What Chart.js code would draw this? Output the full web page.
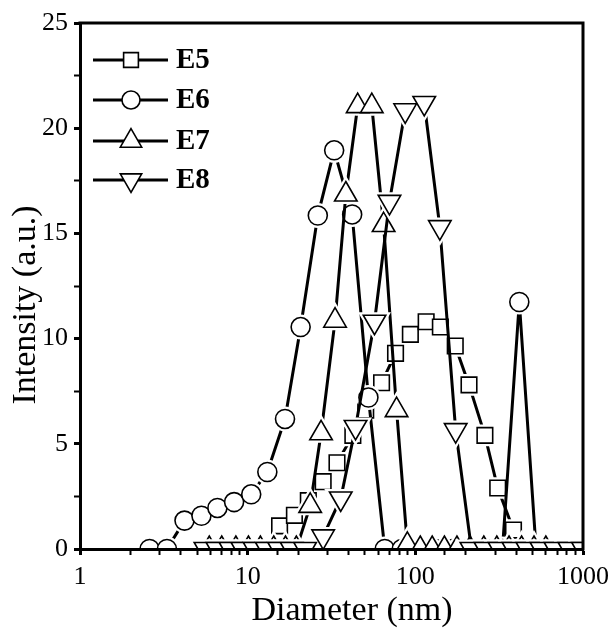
<!DOCTYPE html>
<html><head><meta charset="utf-8">
<script src="https://cdn.jsdelivr.net/npm/chart.js@4/dist/chart.umd.min.js"></script>
<style>html,body{margin:0;padding:0;background:#fff}canvas{display:block}</style>
</head><body>
<canvas id="c" width="616" height="632"></canvas>
<script>
const seriesNames = ['E5', 'E6', 'E7', 'E8'];
const e5Diameter = [15.5, 19.0, 23.0, 28.2, 34.1, 42.4, 50.6, 62.9, 76.2, 93.4, 116, 141, 173, 209, 260, 310, 385, 466, 570];
const e5Intensity = [1.1, 1.6, 2.3, 3.2, 4.1, 5.4, 6.6, 7.9, 9.3, 10.2, 10.8, 10.55, 9.65, 7.8, 5.4, 2.9, 0.9, 0, 0];
const e6Diameter = [2.6, 3.3, 4.2, 5.3, 6.6, 8.3, 10.5, 13.1, 16.7, 20.7, 26.2, 32.8, 42, 52.5, 65.7, 83, 105, 132, 166, 209, 263, 331, 417, 525];
const e6Intensity = [0, 0, 1.35, 1.58, 1.95, 2.23, 2.6, 3.66, 6.18, 10.55, 15.85, 18.95, 15.9, 7.2, 0, 0, 0, 0, 0, 0, 0, 0, 11.74, 0];
const e7Diameter = [5.9, 7.0, 8.5, 10.1, 11.9, 14.3, 16.8, 19.5, 23.6, 27.4, 33.2, 38.5, 45.3, 55.0, 64.7, 77.3, 89.6, 107, 126, 149, 177, 212, 256, 306, 362, 430, 510, 600];
const e7Intensity = [0, 0, 0, 0, 0, 0, 0, 0, 2.05, 5.5, 10.85, 16.85, 21.05, 21.05, 15.4, 6.6, 0.2, 0, 0, 0, 0, 0, 0, 0, 0, 0, 0, 0];
const e8Diameter = [5.6, 6.6, 7.9, 9.3, 11.0, 13.0, 15.4, 18.3, 22.0, 28.2, 35.9, 44.0, 57.1, 70.1, 87.0, 113, 140, 174, 216, 262, 318, 385, 466, 565, 685, 830, 1000];
const e8Intensity = [0, 0, 0, 0, 0, 0, 0, 0, 0, 0.6, 2.4, 5.8, 10.8, 16.5, 20.85, 21.2, 15.3, 5.65, 0, 0, 0, 0, 0, 0, 0, 0, 0];
const xTickLabels = [1, 10, 100, 1000];
const yTickLabels = [0, 5, 10, 15, 20, 25];
const xTitle = 'Diameter (nm)';
const yTitle = 'Intensity (a.u.)';

const FONT = "'Liberation Serif', 'Times New Roman', serif";
const series = [
  {name: seriesNames[0], x: e5Diameter, y: e5Intensity, style: 'rect', r: 11, rot: 0},
  {name: seriesNames[1], x: e6Diameter, y: e6Intensity, style: 'circle', r: 9.5, rot: 0},
  {name: seriesNames[2], x: e7Diameter, y: e7Intensity, style: 'triangle', r: 13, rot: 0},
  {name: seriesNames[3], x: e8Diameter, y: e8Intensity, style: 'triangle', r: 13, rot: 180}
];

const datasets = [];
series.forEach((s, si) => {
  const data = s.x.map((v, i) => ({x: v, y: s.y[i]}));
  const base = si * 3;
  datasets.push({label: s.name, data, order: 100 - base, borderColor: '#000', borderWidth: 3,
    pointRadius: 0, pointHoverRadius: 0, fill: false, tension: 0, clip: 0});
  datasets.push({label: s.name + '_halo', data, order: 100 - base - 1, showLine: false,
    pointStyle: s.style, pointRotation: s.rot, pointRadius: s.r, pointHoverRadius: s.r,
    pointBorderWidth: 6, pointBorderColor: '#fff', pointBackgroundColor: '#fff', clip: 0});
  datasets.push({label: s.name + '_mk', data, order: 100 - base - 2, showLine: false,
    pointStyle: s.style, pointRotation: s.rot, pointRadius: s.r, pointHoverRadius: s.r,
    pointBorderWidth: 1.6, pointBorderColor: '#000', pointBackgroundColor: '#fff', clip: 0});
});

function isPow10(v) { const l = Math.log10(v); return Math.abs(l - Math.round(l)) < 1e-9; }

const decor = {
  id: 'decor',
  afterDraw(chart) {
    const {ctx, chartArea: a} = chart;
    ctx.save();
    ctx.strokeStyle = '#000';
    ctx.lineWidth = 3;
    ctx.lineCap = 'square';
    ctx.beginPath();
    ctx.moveTo(a.left, a.top);
    ctx.lineTo(a.right, a.top);
    ctx.lineTo(a.right, a.bottom);
    ctx.stroke();
    // legend
    const ly = [60, 100, 141, 180];
    series.forEach((s, i) => {
      const y = ly[i];
      ctx.lineWidth = 3;
      ctx.lineCap = 'butt';
      ctx.strokeStyle = '#000';
      ctx.beginPath();
      ctx.moveTo(93, y); ctx.lineTo(168, y); ctx.stroke();
      ctx.fillStyle = '#fff';
      ctx.lineWidth = 1.6;
      const opt = {pointStyle: s.style, rotation: s.rot, radius: s.r * 0.95, borderWidth: 1.6};
      Chart.helpers.drawPoint(ctx, opt, 131, y);
      ctx.fillStyle = '#000';
      ctx.font = 'bold 29px ' + FONT;
      ctx.textAlign = 'left';
      ctx.textBaseline = 'middle';
      ctx.fillText(s.name, 176, y + 1);
    });
    // axis titles
    ctx.fillStyle = '#000';
    ctx.font = '34px ' + FONT;
    ctx.textAlign = 'center';
    ctx.textBaseline = 'middle';
    ctx.fillText(xTitle, 352, 611);
    ctx.translate(26, 305);
    ctx.rotate(-Math.PI / 2);
    ctx.fillText(yTitle, 0, 0);
    ctx.restore();
  }
};

new Chart(document.getElementById('c'), {
  type: 'line',
  data: {datasets},
  options: {
    responsive: false,
    animation: false,
    devicePixelRatio: 1,
    layout: {padding: {left: 0, right: 29, top: 23, bottom: 0}, autoPadding: false},
    plugins: {legend: {display: false}, tooltip: {enabled: false}},
    scales: {
      x: {
        type: 'logarithmic', min: 1, max: 1000, position: 'bottom',
        afterFit: (sc) => { sc.height = 83; },
        grid: {display: true, drawOnChartArea: false, drawTicks: true, tickLength: 6,
          tickWidth: (c) => (c.tick && isPow10(c.tick.value)) ? 3 : 2, tickColor: '#000'},
        border: {display: true, color: '#000', width: 3, z: 1},
        ticks: {autoSkip: false, maxRotation: 0, minRotation: 0, padding: 7, color: '#000',
          font: {family: FONT, size: 26},
          callback: (v) => (isPow10(v) && xTickLabels.includes(Math.round(v))) ? String(Math.round(v)) : ''}
      },
      y: {
        type: 'linear', min: 0, max: 25, position: 'left',
        afterFit: (sc) => { sc.width = 80; },
        grid: {display: true, drawOnChartArea: false, drawTicks: true, tickLength: 6,
          tickWidth: (c) => (c.tick && yTickLabels.includes(c.tick.value)) ? 3 : 2, tickColor: '#000'},
        border: {display: true, color: '#000', width: 3, z: 1},
        ticks: {stepSize: 2.5, padding: 6, color: '#000', font: {family: FONT, size: 26},
          callback: (v) => yTickLabels.includes(v) ? String(v) : ''}
      }
    }
  },
  plugins: [decor]
});
</script>
</body></html>
